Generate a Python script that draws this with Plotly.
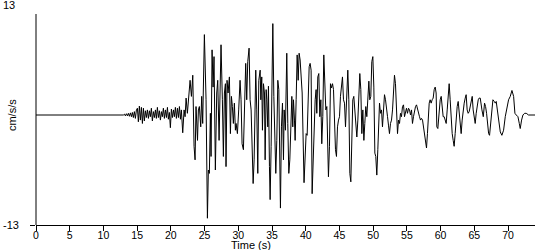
import plotly.graph_objects as go

# Time (s) and acceleration (cm/s/s)
time_s = [
    0.0, 12.9,
    12.96, 13.11, 13.25, 13.40, 13.55, 13.70, 13.85, 14.00, 14.15, 14.29, 14.44, 14.59, 14.74, 14.89,
    15.04, 15.18, 15.33, 15.48, 15.63, 15.78, 15.93, 16.07, 16.22, 16.37, 16.52, 16.67, 16.82, 16.96,
    17.11, 17.26, 17.41, 17.56, 17.71, 17.85, 18.00, 18.15, 18.30, 18.45, 18.60, 18.74, 18.89, 19.04,
    19.19, 19.34, 19.49, 19.63, 19.78, 19.93, 20.08, 20.23, 20.38, 20.52, 20.67, 20.82, 20.97, 21.12,
    21.27, 21.42, 21.56, 21.76, 21.96, 22.11, 22.26, 22.45, 22.65, 22.85, 23.05, 23.25, 23.44, 23.59,
    23.73, 23.95, 24.08, 24.23, 24.43, 24.57, 24.72, 24.82, 24.97, 25.22, 25.42, 25.56, 25.71, 25.86,
    25.96, 26.11, 26.26, 26.40, 26.60, 26.80, 26.95, 27.15, 27.30, 27.44, 27.64, 27.79, 27.94, 28.09,
    28.18, 28.33, 28.48, 28.68, 28.83, 28.98, 29.12, 29.27, 29.42, 29.57, 29.67, 29.87, 30.06, 30.26,
    30.41, 30.56, 30.76, 30.95, 31.10, 31.25, 31.40, 31.60,
    31.75, 31.90, 32.05, 32.20, 32.35, 32.50, 32.59, 32.74, 32.89, 33.04, 33.24, 33.34, 33.48, 33.58,
    33.73, 33.88, 33.98, 34.13, 34.23, 34.37, 34.47, 34.62, 34.72, 34.87, 35.02, 35.12, 35.27, 35.41,
    35.56, 35.71, 35.86, 36.01, 36.16, 36.25, 36.40, 36.55, 36.70, 36.80, 36.99, 37.19, 37.34, 37.49,
    37.64, 37.79, 37.94, 38.08, 38.18, 38.33, 38.43, 38.58, 38.73, 38.88, 39.02, 39.17, 39.32, 39.47,
    39.75, 39.90, 40.06, 40.21, 40.36, 40.51, 40.65, 40.80, 40.95, 41.10, 41.25, 41.40, 41.54, 41.64,
    41.79, 41.94, 42.09, 42.24, 42.38, 42.53, 42.68, 42.83, 42.98, 43.13, 43.23, 43.37, 43.52, 43.67,
    43.82, 43.97, 44.12, 44.26, 44.41, 44.56, 44.71, 44.86, 45.01, 45.15, 45.30, 45.45, 45.60, 45.75,
    45.90, 46.09, 46.24, 46.39, 46.54, 46.69, 46.84, 46.98, 47.13, 47.28, 47.43, 47.58, 47.73, 47.87,
    48.02, 48.17, 48.32, 48.47, 48.62, 48.76, 48.91, 49.06, 49.21, 49.36,
    49.50, 49.65, 49.80, 49.95, 50.10, 50.25, 50.39, 50.54, 50.69, 50.84, 50.94, 51.09, 51.24, 51.38,
    51.53, 51.68, 51.83, 51.98, 52.13, 52.27, 52.42, 52.57, 52.72, 52.87, 53.02, 53.16, 53.31, 53.46,
    53.61, 53.76, 53.91, 54.05, 54.20, 54.35, 54.50, 54.65, 54.80, 54.94, 55.09, 55.24, 55.39, 55.54,
    55.69, 55.83, 55.98, 56.13, 56.28, 56.43, 56.58, 56.72, 56.87, 57.02, 57.17, 57.32, 57.47, 57.61,
    57.76, 57.91, 58.05, 58.16, 58.31, 58.45, 58.60, 58.75, 58.90, 59.05, 59.20, 59.34, 59.44, 59.59,
    59.74, 59.94, 60.09, 60.23, 60.38, 60.53, 60.68, 60.83, 60.98, 61.12, 61.27, 61.42, 61.57, 61.72,
    61.87, 62.01, 62.16, 62.31, 62.46, 62.61, 62.76, 62.90, 63.05, 63.20, 63.35, 63.50, 63.65, 63.79,
    63.94, 64.09, 64.24, 64.39, 64.54, 64.69, 64.83, 64.98, 65.13, 65.28, 65.43, 65.58, 65.72,
    65.88, 66.13, 66.33, 66.52, 66.67, 66.82, 66.97, 67.12, 67.26, 67.46, 67.61, 67.76, 67.96, 68.11,
    68.25, 68.40, 68.60, 68.85, 69.09, 69.34, 69.59, 69.84, 70.08, 70.33, 70.58, 70.83, 71.02, 71.22,
    71.47, 71.67, 71.81, 72.01, 72.21, 72.46, 72.70, 73.05, 74.04,
]

accel = [
    0.0, 0.0,
    0.0, 0.1, -0.1, 0.15, -0.1, 0.2, -0.15, 0.25, -0.2, 0.3, -0.3, 0.4, -0.4, 0.6,
    0.8, -0.8, 1.05, -0.6, 0.9, -1.0, 0.8, -0.7, 0.5, -0.3, 0.6, -0.4, 0.5, -0.2,
    0.8, -0.7, 0.4, -0.3, 0.6, -0.4, 0.9, -0.3, 0.5, -0.6, 0.4, -0.2, 0.8, -0.4,
    0.6, -0.3, 0.9, -0.5, 0.3, -1.5, 0.7, -0.3, 0.6, -0.2, 0.9, -0.4, 0.8, -0.3,
    1.0, -0.5, 0.6, -2.1, 0.6, -0.2, 2.0, 0.2, 1.8, 4.1, 2.2, 4.7, -3.7, -5.3,
    1.0, -3.0, 0.6, 1.0, -1.4, 2.2, -1.0, 4.1, 9.5, 1.8, -12.2, -6.5, -6.9, 0.2,
    -4.9, 7.7, 3.3, 6.9, -6.5, 2.6, 4.1, -3.0, 4.5, 8.3, 1.8, -4.9, 2.6, 3.7,
    -6.1, 4.1, 2.6, 4.5, -2.2, 2.2, 1.0, -1.0, 1.4, -1.8, -1.0, -2.2, 0.6, 4.1,
    1.8, -3.4, -4.1, 3.7, 6.1, 1.8, 6.3, 7.9,
    1.8, 0.6, -3.0, -8.1, -5.3, 3.3, 5.3, 0.6, -6.9, 4.1, 5.3, 1.8, 4.5, -1.8,
    3.7, 2.6, -5.3, 3.0, 1.8, -1.4, 3.4, -6.1, -10.0, -3.7, 8.5, 10.8, 2.2, -2.2,
    -6.9, -3.0, 4.1, 3.0, -8.5, -11.0, -1.4, 1.4, -5.3, 0.6, -1.8, 7.3, -1.0, -6.9,
    -5.3, -0.6, 2.2, -1.4, 1.8, -0.6, -3.0, 1.8, 7.1, 4.1, 7.3, 6.5, 4.1, 2.6,
    -8.0, -4.0, -2.2, -2.4, 0.6, 5.7, 6.1, 5.3, -9.3, -5.7, -0.6, 1.8, 3.0, 0.2,
    4.5, 4.9, -0.2, 1.8, -3.4, -0.2, 7.1, 3.7, 0.6, 1.0, -3.0, -7.3, -3.7, 3.7,
    3.2, 3.7, 3.0, -2.2, -4.1, -4.9, -1.4, -0.6, -0.2, 2.2, 3.3, 4.5, 1.8, 1.4,
    -1.4, 2.2, 5.3, 1.8, -6.9, -7.9, -2.2, 1.8, 2.2, 0.6, -0.2, -2.6, -0.6, 1.8,
    4.9, 3.0, -2.2, 0.6, -3.0, -1.0, 1.0, -0.2, 3.0, 4.0,
    1.8, 2.2, 6.3, 6.9, 3.3, -4.5, -4.9, -7.1, -4.1, -1.4, 1.4, 0.2, 0.6, -1.4,
    0.2, 2.4, 1.8, 1.0, -0.2, -1.2, -2.2, -1.0, -0.6, 0.6, 3.0, 4.7, 3.7, 1.0,
    -2.2, -0.6, -1.0, 0.2, -0.2, 1.0, 1.2, -0.2, 0.6, 0.8, 0.2, 0.8, 0.6, 0.0,
    0.6, -1.0, -0.2, 0.6, 1.0, 1.2, 0.6, 0.0, -0.2, -0.6, -0.4, -0.6, -1.4, -2.0,
    -3.0, -3.9, -2.2, 0.2, 1.4, 1.8, 1.4, 1.8, 2.0, 3.0, 3.3, 2.6, -1.4, -1.6,
    0.2, 1.8, 2.2, 1.0, -0.2, -0.2, -0.6, -1.0, 0.6, 2.6, 3.7, 1.8, -0.6, -2.2,
    -3.0, -3.7, -2.2, -0.2, 1.0, 1.6, 0.2, -1.0, -2.2, -0.6, 0.6, 1.4, 2.0, 2.4,
    0.6, 0.2, 0.4, 1.0, 1.8, 2.2, 0.6, -0.6, -1.0, 0.2, 1.4, 1.8, 2.0,
    2.0, 0.6, -0.2, 1.4, 1.0, 0.2, -1.4, -2.2, -2.4, -1.0, 0.6, 1.8, 1.6, 1.4,
    1.6, 0.6, -0.8, -2.0, -2.4, -1.8, -0.2, 1.0, 1.8, 2.2, 2.9, 2.2, 0.2, 0.0,
    -0.2, -1.0, -1.6, -0.6, 0.0, 0.2, 0.2, 0.0, 0.0,
]

x_ticks = [0, 5, 10, 15, 20, 25, 30, 35, 40, 45, 50, 55, 60, 65, 70]
y_ticks = [13, -13]
y_tick_labels = ["13", "-13"]

font_family = "Liberation Sans, Arial, sans-serif"

fig = go.Figure()
fig.add_trace(go.Scatter(
    x=time_s, y=accel, mode="lines",
    line=dict(color="black", width=1),
    hoverinfo="skip", showlegend=False,
))

# plot area: 36..535 px horizontally, 5..225 px vertically
annotations = [
    dict(text="Time (s)", xref="paper", yref="paper", x=0.43, y=-0.092,
         xanchor="center", yanchor="middle", showarrow=False, font=dict(size=11)),
    dict(text="cm/s/s", xref="paper", yref="paper", x=-0.048, y=0.5,
         xanchor="center", yanchor="middle", showarrow=False,
         textangle=-90, font=dict(size=11)),
]
# y tick labels as placed in the reference (top label sits in the corner)
annotations.append(dict(text=y_tick_labels[0], xref="paper", yref="paper",
                        x=-0.038, y=1.0, xanchor="right", yanchor="middle",
                        showarrow=False, font=dict(size=11)))
annotations.append(dict(text=y_tick_labels[1], xref="paper", yref="y",
                        x=-0.031, y=y_ticks[1], xanchor="right", yanchor="middle",
                        showarrow=False, font=dict(size=11)))

fig.update_layout(
    width=550, height=250,
    margin=dict(l=36, r=15, t=5, b=25),
    paper_bgcolor="white", plot_bgcolor="white",
    font=dict(family=font_family, size=11, color="black"),
    xaxis=dict(
        range=[0, 74], tickvals=x_ticks, ticks="outside", ticklen=5,
        tickcolor="black", showline=True, linecolor="black", linewidth=1,
        showgrid=False, zeroline=False, tickfont=dict(size=10.5),
        ticklabelstandoff=-5,
    ),
    yaxis=dict(
        range=[-13, 13], tickvals=[y_ticks[1]], ticks="outside", ticklen=5,
        tickcolor="black", showline=False, showticklabels=False,
        showgrid=False, zeroline=False,
    ),
    shapes=[
        dict(type="line", xref="paper", yref="paper", x0=0, x1=0,
             y0=0, y1=(225 - 14) / 220, line=dict(color="black", width=1)),
    ],
    annotations=annotations,
)

fig.write_html("out.html")
